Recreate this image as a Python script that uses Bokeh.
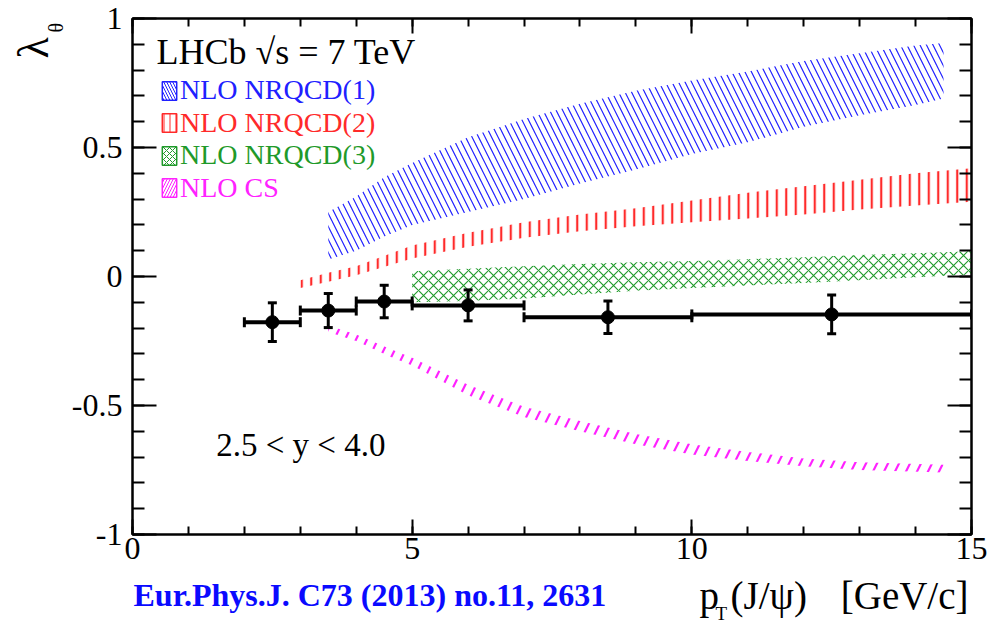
import math
from bokeh.plotting import figure
from bokeh.layouts import column, row
from bokeh.core.properties import value
from bokeh.models import (Range1d, LinearAxis, SingleIntervalTicker, Label,
                          Legend, LegendItem, CustomJSTickFormatter)
from bokeh.embed import file_html
from bokeh.resources import INLINE

# ---------------- data ----------------
pt_bin_lo = [2, 3, 4, 5, 7, 10]
pt_bin_hi = [3, 4, 5, 7, 10, 15]
pt_center = [2.5, 3.5, 4.5, 6.0, 8.5, 12.5]
lam_data = [-0.177, -0.132, -0.097, -0.112, -0.158, -0.147]
lam_err = [0.075, 0.066, 0.063, 0.060, 0.063, 0.075]

nrqcd1_pt = [3.5, 4.0, 4.5, 5.0, 6.0, 7.0, 8.0, 9.0, 10, 11, 12, 13, 14, 14.5]
nrqcd1_lo = [0.066, 0.10, 0.155, 0.20, 0.25, 0.30, 0.36, 0.415, 0.475, 0.52, 0.58, 0.625, 0.665, 0.69]
nrqcd1_hi = [0.25, 0.31, 0.385, 0.44, 0.54, 0.61, 0.67, 0.72, 0.76, 0.795, 0.835, 0.865, 0.895, 0.905]

nrqcd2_pt = [3.0, 3.5, 4.0, 5.0, 6.0, 7.0, 8.0, 9.0, 10, 11, 12, 13, 14, 15]
nrqcd2_lo = [-0.045, -0.02, 0.005, 0.07, 0.115, 0.15, 0.175, 0.195, 0.21, 0.225, 0.24, 0.26, 0.275, 0.29]
nrqcd2_hi = [-0.015, 0.015, 0.04, 0.12, 0.17, 0.21, 0.24, 0.265, 0.295, 0.325, 0.35, 0.375, 0.40, 0.42]

nrqcd3_pt = [5.0, 6.0, 7.0, 8.0, 9.0, 10, 11, 12, 13, 14, 15]
nrqcd3_lo = [-0.10, -0.095, -0.085, -0.07, -0.055, -0.045, -0.035, -0.025, -0.015, -0.003, 0.008]
nrqcd3_hi = [0.02, 0.03, 0.04, 0.048, 0.055, 0.06, 0.067, 0.075, 0.083, 0.09, 0.098]

cs_pt = [3.5, 4.0, 4.6, 5.0, 6.0, 7.0, 8.0, 9.0, 10, 11, 12, 13, 14.5]
cs_lo = [-0.215, -0.25, -0.31, -0.345, -0.46, -0.545, -0.60, -0.65, -0.69, -0.715, -0.735, -0.75, -0.76]
cs_hi = [-0.19, -0.225, -0.28, -0.315, -0.42, -0.505, -0.56, -0.61, -0.65, -0.68, -0.705, -0.72, -0.73]

legend_labels = ["NLO NRQCD(1)", "NLO NRQCD(2)", "NLO NRQCD(3)", "NLO CS"]

x_ticks_major = 5
y_ticks_major = 0.5

FONT = "Liberation Serif"
BLUE = "#2020ff"
RED = "#ff2a2a"
GREEN = "#1f9a2a"
MAGENTA = "#ff22ff"

LEFT_W = 68          # width of the strip holding the y title
MAIN_H = 573         # height of the main figure
BOTTOM_H = 624 - MAIN_H
FRAME_TOP, FRAME_BOT = 18, 534
BASE_SHIFT = 0.33    # em: the renderer draws "alphabetic" text this much lower

p = figure(width=994 - LEFT_W, height=MAIN_H, x_range=Range1d(0, 15), y_range=Range1d(-1, 1),
           output_backend="svg", toolbar_location=None, title_location=None,
           min_border_left=129 - LEFT_W, min_border_right=23, min_border_top=FRAME_TOP,
           min_border_bottom=MAIN_H - FRAME_BOT,
           x_axis_location=None, y_axis_location=None)
p.background_fill_color = "white"
p.border_fill_color = "white"
p.outline_line_color = "black"
p.outline_line_width = 2
p.xgrid.visible = False
p.ygrid.visible = False

plain_fmt = CustomJSTickFormatter(code="return tick.toString();")
blank_fmt = CustomJSTickFormatter(code="return '';")


def make_axis(kind, labels, ticker):
    ax = LinearAxis(ticker=ticker)
    ax.axis_line_width = 2
    ax.major_tick_line_width = 2
    ax.minor_tick_line_width = 2
    ax.major_tick_out = 0
    ax.minor_tick_out = 0
    if kind == "y":
        ax.major_tick_in = 24
        ax.minor_tick_in = 12
    else:
        ax.major_tick_in = 15
        ax.minor_tick_in = 8
    if labels:
        ax.formatter = plain_fmt
        ax.major_label_text_font = FONT
        ax.major_label_text_font_size = "32px"
        ax.major_label_text_color = "black"
        ax.major_label_standoff = 10 if kind == "y" else 3
    else:
        ax.formatter = blank_fmt
        ax.major_label_text_font_size = "1px"
        ax.major_label_text_color = None
        ax.major_label_standoff = 0
    return ax


xt = SingleIntervalTicker(interval=x_ticks_major, num_minor_ticks=5)
yt = SingleIntervalTicker(interval=y_ticks_major, num_minor_ticks=5)
p.add_layout(make_axis("x", True, xt), "below")
p.add_layout(make_axis("x", False, xt), "above")
p.add_layout(make_axis("y", True, yt), "left")
p.add_layout(make_axis("y", False, yt), "right")

# ---------------- theory bands ----------------
band_specs = [
    (nrqcd1_pt, nrqcd1_lo, nrqcd1_hi, BLUE, "\\", 13, 1.2),
    (nrqcd2_pt, nrqcd2_lo, nrqcd2_hi, RED, "|", 9.5, 2.2),
    (nrqcd3_pt, nrqcd3_lo, nrqcd3_hi, GREEN, "x", 10, 1.1),
    (cs_pt, cs_lo, cs_hi, MAGENTA, "/", 22, 2.2),
]
for xs, lo, hi, col, hp, sc, wt in band_specs:
    p.varea(x=xs, y1=lo, y2=hi, fill_color=None, fill_alpha=0,
            hatch_pattern=hp, hatch_color=col, hatch_scale=sc, hatch_weight=wt)

# ---------------- data points ----------------
lam_up = [v + e for v, e in zip(lam_data, lam_err)]
lam_dn = [v - e for v, e in zip(lam_data, lam_err)]
p.segment(x0=pt_bin_lo, x1=pt_bin_hi, y0=lam_data, y1=lam_data, line_color="black", line_width=4)
p.segment(x0=pt_center, x1=pt_center, y0=lam_dn, y1=lam_up, line_color="black", line_width=3)
p.scatter(x=pt_center * 2, y=lam_up + lam_dn, marker="dash", size=9, line_color="black", line_width=3)
p.scatter(x=pt_bin_lo + pt_bin_hi, y=lam_data + lam_data, marker="dash", angle=math.pi / 2,
          size=10, line_color="black", line_width=3)
p.scatter(x=pt_center, y=lam_data, marker="circle", size=13, fill_color="black", line_color="black")

# ---------------- legends (one per entry, each with its own text colour) ----------------
legend_rows = [88, 120.5, 153, 185.5]   # canvas y of each row centre
NAN = float("nan")
for name, (xs, lo, hi, col, hp, sc, wt), cy in zip(legend_labels, band_specs, legend_rows):
    proxy = p.quad(left=[NAN], right=[NAN], top=[NAN], bottom=[NAN], line_color=col, line_width=1.5,
                   fill_color=None, fill_alpha=0, hatch_pattern=hp, hatch_color=col,
                   hatch_scale=6, hatch_weight=1)
    row_h = 36
    leg = Legend(items=[LegendItem(label=name, renderers=[proxy])],
                 location=(157 - 129, FRAME_BOT - (cy + row_h / 2)),
                 background_fill_alpha=0, border_line_alpha=0,
                 padding=0, margin=0, spacing=0,
                 glyph_width=18, glyph_height=23, label_height=23, label_standoff=2,
                 label_text_font=FONT, label_text_font_size="28px", label_text_color=col)
    p.add_layout(leg)


# ---------------- texts ----------------
def sx(px):
    return (px - 129) / (842 / 15)


def sy(py):
    return (276 - py) / 258.0


def lab(fig, text, x, y, size, color="black", align="left", style="normal"):
    fig.add_layout(Label(x=x, y=y, text=text, text_font=FONT, text_font_size="%dpx" % size,
                         text_color=color, text_align=align, text_baseline="alphabetic",
                         text_font_style=style))


def shift(size):
    return BASE_SHIFT * size


# inside the frame: (canvas x, canvas baseline y)
lab(p, "LHCb √s = 7 TeV", sx(153), sy(63 - shift(36)), 36)
lab(p, "2.5 < y < 4.0", sx(213), sy(455 - shift(33)), 33)


# helper strips (their data coordinates are canvas pixels, y measured upward)
def strip(w, h, y_lo, y_hi):
    f = figure(width=w, height=h, x_range=Range1d(0, w), y_range=Range1d(y_lo, y_hi),
               output_backend="svg", toolbar_location=None, title_location=None,
               min_border=0, min_border_left=0, min_border_right=0,
               min_border_top=0, min_border_bottom=0,
               x_axis_location=None, y_axis_location=None)
    f.outline_line_color = None
    f.background_fill_color = "white"
    f.border_fill_color = "white"
    f.xgrid.visible = False
    f.ygrid.visible = False
    return f


# the row aligns this strip's frame with the main frame (canvas y 18..534)
left = strip(LEFT_W, MAIN_H, MAIN_H - FRAME_BOT, MAIN_H - FRAME_TOP)
left.text(x=[48 - shift(44)], y=[MAIN_H - 58], text=["λ"], angle=math.pi / 2,
          text_font=value(FONT), text_font_size=value("44px"),
          text_baseline="alphabetic", text_align="left", text_color="black")
left.text(x=[62 - shift(20)], y=[MAIN_H - 32], text=["θ"], angle=math.pi / 2,
          text_font=value(FONT), text_font_size=value("20px"),
          text_baseline="alphabetic", text_align="left", text_color="black")

bottom = strip(994, BOTTOM_H, 0, BOTTOM_H)
# canvas y -> strip y : 624 - y
lab(bottom, "Eur.Phys.J. C73 (2013) no.11, 2631", 133, 624 - (605 - shift(32)), 32,
    color="#0a0aff", style="bold")
lab(bottom, "p", 699, 624 - (608 - shift(39)), 39)
lab(bottom, "T", 715, 624 - (619 - shift(19)), 19)
lab(bottom, "(J/ψ)", 730, 624 - (608 - shift(39)), 39)
lab(bottom, "[GeV/c]", 968, 624 - (608 - shift(39)), 39, align="right")

layout = column(row(left, p, spacing=0), bottom, spacing=0)
open("out.html", "w").write(file_html(layout, INLINE))
